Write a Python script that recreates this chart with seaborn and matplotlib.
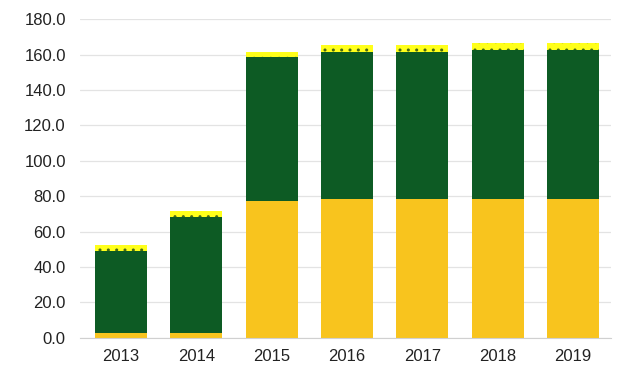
import pandas as pd
import seaborn as sns
import matplotlib.pyplot as plt

# Data
years = ['2013', '2014', '2015', '2016', '2017', '2018', '2019']
yellow_part = [3.0, 3.0, 77.0, 78.5, 78.5, 78.5, 78.5]
green_part = [46.0, 65.0, 81.5, 83.0, 83.0, 84.0, 84.0]
top_part = [3.5, 3.7, 3.0, 3.9, 3.9, 4.0, 4.0]

df = pd.DataFrame({'Year': years, 'Yellow': yellow_part,
                   'Green': green_part, 'Top': top_part})
df['Lower2'] = df['Yellow'] + df['Green']
df['Total'] = df['Lower2'] + df['Top']

sns.set_style('white')
plt.rcParams['font.family'] = ['Liberation Sans', 'DejaVu Sans']
plt.rcParams['hatch.linewidth'] = 1.0

fig = plt.figure(figsize=(6.23, 3.68), dpi=100)
ax = fig.add_axes([0.128, 0.082, 0.852, 0.866])

# Stacked bars: draw cumulative totals back to front
sns.barplot(data=df, x='Year', y='Total', color='#FFFF1A', width=0.69,
            saturation=1, hatch='..', edgecolor='#4A6A12', linewidth=0, ax=ax)
sns.barplot(data=df, x='Year', y='Lower2', color='#0D5B24', width=0.69,
            saturation=1, linewidth=0, ax=ax)
sns.barplot(data=df, x='Year', y='Yellow', color='#F8C41E', width=0.69,
            saturation=1, linewidth=0, ax=ax)

ax.set_ylim(0, 180)
ax.set_yticks(range(0, 181, 20))
ax.set_yticklabels([f'{v:.1f}' for v in range(0, 181, 20)])
ax.yaxis.grid(True, color='#E3E3E3', linewidth=0.9)
ax.set_axisbelow(True)
for s in ['top', 'right', 'left']:
    ax.spines[s].set_visible(False)
ax.spines['bottom'].set_color('#D0D0D0')
ax.tick_params(axis='both', length=0, labelsize=12, colors='#222222')
ax.tick_params(axis='y', pad=10)
ax.tick_params(axis='x', pad=8)
ax.set_xlabel('')
ax.set_ylabel('')
ax.set_xlim(-0.55, 6.5)

plt.savefig('out.png', dpi=100)
